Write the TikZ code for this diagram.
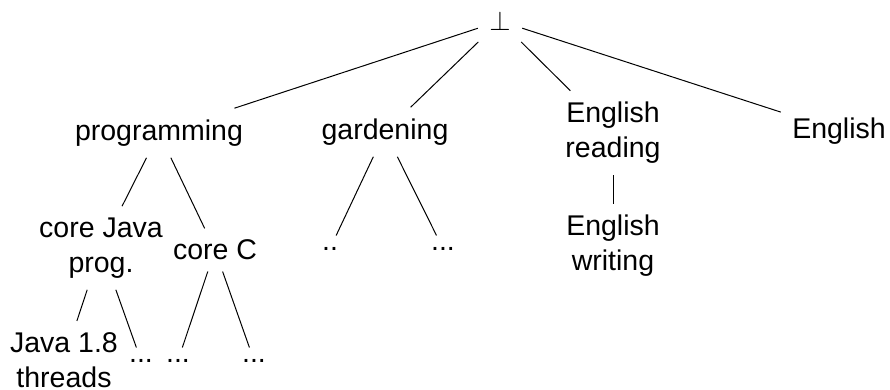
\documentclass[tikz,border=0pt]{standalone}
\usepackage{fontspec}
\setmainfont{Liberation Sans}
\usepackage{amsmath}

\begin{document}
\begin{tikzpicture}[x=0.4pt, y=-0.4pt,
    every node/.style={font=\fontsize{11.4}{14}\selectfont, align=center, inner sep=4.4pt}]
                    \useasboundingbox (0,0) rectangle (890,390);
                    \node (bot) at (500,21) {$\bot$};
                    \node (prog) at (159,133) {programming};
                    \node (gard) at (385,132) {gardening};
                    \node (eread) at (613,133) {English\\reading};
                    \node (eng) at (839,131) {English};
                    \node (cjava) at (101,248) {core Java\\prog.};
                    \node (corec) at (215,250) {core C};
                    \node (gd1) at (330,248.5) {..};
                    \node (gd2) at (443,248.5) {...};
                    \node (ewrite) at (613,246) {English\\writing};
                    \node (java) at (64,360) {Java 1.8\\threads};
                    \node (jd) at (141,360.5) {...};
                    \node (cd1) at (178,360.5) {...};
                    \node (cd2) at (254,360.5) {...};
                    
                    \draw (bot) -- (prog);
                    \draw (bot) -- (gard);
                    \draw (bot) -- (eread);
                    \draw (bot) -- (eng);
                    \draw (prog) -- (cjava);
                    \draw (prog) -- (corec);
                    \draw (gard) -- (gd1);
                    \draw (gard) -- (gd2);
                    \draw (eread) -- (ewrite);
                    \draw (cjava) -- (java);
                    \draw (cjava) -- (jd);
                    \draw (corec) -- (cd1);
                    \draw (corec) -- (cd2);
                \end{tikzpicture}
\end{document}
